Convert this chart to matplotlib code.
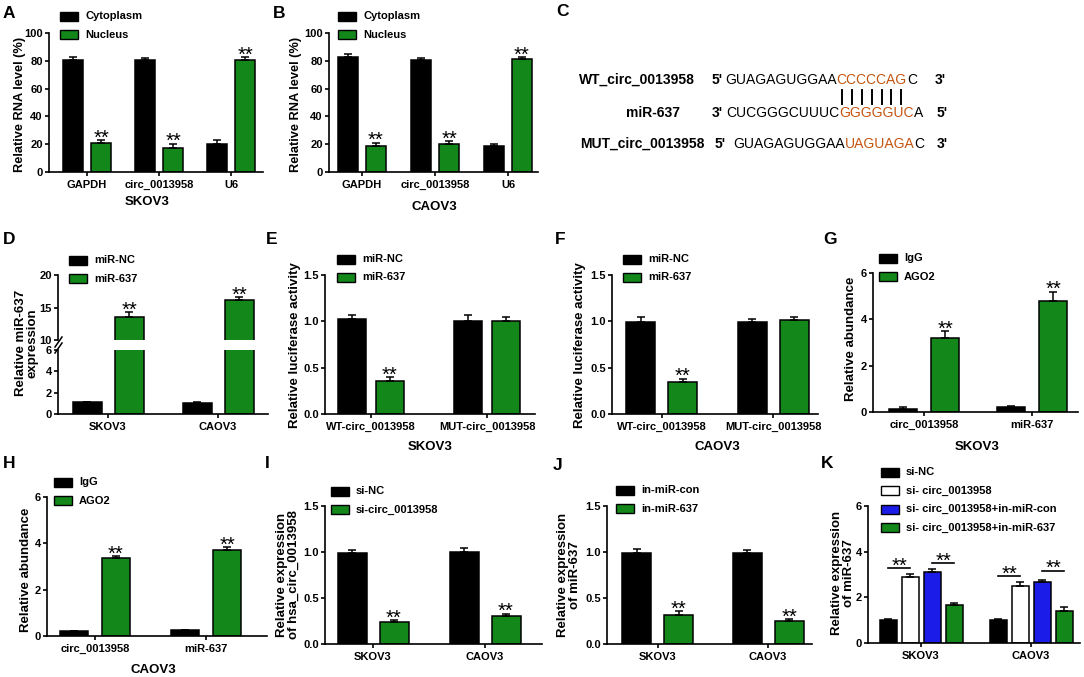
import numpy as np
import matplotlib
matplotlib.use("Agg")
import matplotlib.pyplot as plt
from matplotlib.patches import Rectangle
from matplotlib.font_manager import FontProperties
from matplotlib.ticker import FormatStrFormatter

plt.rcParams['font.family'] = ['Liberation Sans', 'DejaVu Sans']
plt.rcParams['font.weight'] = 'bold'

W, H = 1084, 677
GREEN = '#13871a'
BLUE = '#1c1ce8'
ORANGE = '#c4550f'

# ---- data ----
# A / B: nuclear / cytoplasmic fractions (%)
frac_genes = ['GAPDH', 'circ_0013958', 'U6']
skov3_cyto = [80.5, 80.5, 20.5]
skov3_cyto_err = [2.5, 1.2, 2.5]
skov3_nuc = [21.0, 17.0, 80.5]
skov3_nuc_err = [1.8, 3.5, 2.0]
caov3_cyto = [82.5, 80.5, 19.0]
caov3_cyto_err = [2.5, 1.2, 1.2]
caov3_nuc = [18.5, 20.5, 81.5]
caov3_nuc_err = [2.5, 1.5, 1.2]

cells = ['SKOV3', 'CAOV3']
# D: miR-637 mimic
mir_nc = [1.1, 1.05]
mir_nc_err = [0.05, 0.04]
mir_637 = [13.5, 16.1]
mir_637_err = [0.8, 0.5]

# E / F: luciferase
luc_groups = ['WT-circ_0013958', 'MUT-circ_0013958']
skov3_luc_nc = [1.02, 1.0]
skov3_luc_nc_err = [0.05, 0.07]
skov3_luc_mir = [0.36, 1.0]
skov3_luc_mir_err = [0.04, 0.05]
caov3_luc_nc = [0.99, 0.99]
caov3_luc_nc_err = [0.06, 0.04]
caov3_luc_mir = [0.34, 1.01]
caov3_luc_mir_err = [0.04, 0.04]

# G / H: RIP
rip_groups = ['circ_0013958', 'miR-637']
skov3_igg = [0.12, 0.22]
skov3_igg_err = [0.1, 0.02]
skov3_ago2 = [3.2, 4.8]
skov3_ago2_err = [0.3, 0.4]
caov3_igg = [0.2, 0.25]
caov3_igg_err = [0.02, 0.02]
caov3_ago2 = [3.35, 3.72]
caov3_ago2_err = [0.1, 0.12]

# I: si-circ
si_nc = [0.99, 1.0]
si_nc_err = [0.03, 0.04]
si_circ = [0.24, 0.30]
si_circ_err = [0.02, 0.03]

# J: in-miR
in_con = [0.99, 0.99]
in_con_err = [0.04, 0.03]
in_637 = [0.32, 0.25]
in_637_err = [0.04, 0.02]

# K: rescue
k_labels = ['si-NC', 'si- circ_0013958', 'si- circ_0013958+in-miR-con',
            'si- circ_0013958+in-miR-637']
k_vals = [[1.0, 1.0], [2.9, 2.48], [3.09, 2.67], [1.67, 1.41]]
k_errs = [[0.05, 0.05], [0.12, 0.19], [0.14, 0.1], [0.1, 0.15]]
# (cell index, bar a, bar b, height)
k_brackets = [(0, 0, 1, 3.28), (0, 2, 3, 3.5), (1, 0, 1, 2.94), (1, 2, 3, 3.16)]

fig = plt.figure(figsize=(W / 100, H / 100), dpi=100)
fig.set_facecolor('white')

ov = fig.add_axes([0, 0, 1, 1], zorder=10)
ov.set_xlim(0, W)
ov.set_ylim(H, 0)
ov.axis('off')


def make_axes(L, T, R, B):
    ax = fig.add_axes([L / W, 1 - B / H, (R - L) / W, (B - T) / H])
    for s in ['top', 'right']:
        ax.spines[s].set_visible(False)
    for s in ['left', 'bottom']:
        ax.spines[s].set_linewidth(1.2)
    ax.tick_params(direction='out', length=3, width=1.2, labelsize=8, pad=1.5)
    ax.tick_params(axis='x', pad=2.5)
    ax.set_facecolor('none')
    return ax


def bars(ax, L, R, centers, offsets, width, series, labels):
    s = centers[1] - centers[0]
    ax.set_xlim((L - centers[0]) / s, (R - centers[0]) / s)
    x = np.arange(len(labels))
    pos = []
    for off, (vals, errs, col) in zip(offsets, series):
        xs = x + off / s
        ax.bar(xs, vals, width / s, color=col, edgecolor='k', linewidth=1.1, zorder=2)
        ax.errorbar(xs, vals, yerr=[np.zeros(len(vals)), errs], fmt='none',
                    ecolor='k', elinewidth=1.1, capsize=3.2, capthick=1.1, zorder=3)
        pos.append(xs)
    ax.set_xticks(x)
    ax.set_xticklabels(labels)
    return pos


def stars(ax, xs, tops):
    for xx, t in zip(xs, tops):
        ax.annotate('**', (xx, t), xytext=(0, -2.5), textcoords='offset points',
                    ha='center', va='baseline', fontsize=14.5, fontweight='normal')


def legend(x, y0, entries, step=18.5):
    for i, (lab, col) in enumerate(entries):
        yy = y0 + i * step
        ov.add_patch(Rectangle((x, yy - 4.5), 18, 9, facecolor=col, edgecolor='k', lw=1.0))
        ov.text(x + 25, yy, lab, fontsize=8, va='center', ha='left')


def ylab(x, y, s, size=9.5):
    ov.text(x, y, s, rotation=90, ha='center', va='center', fontsize=size,
            multialignment='center', linespacing=0.95)


def top(v, e):
    return [a + b for a, b in zip(v, e)]


# ---------- A ----------
ax = make_axes(49, 33, 263, 172)
p = bars(ax, 49, 263, [87, 159, 231], [-14, 14], 20,
         [(skov3_cyto, skov3_cyto_err, 'k'), (skov3_nuc, skov3_nuc_err, GREEN)], frac_genes)
ax.set_ylim(0, 100)
ax.set_yticks([0, 20, 40, 60, 80, 100])
stars(ax, p[1], top(skov3_nuc, skov3_nuc_err))
legend(60, 16, [('Cytoplasm', 'k'), ('Nucleus', GREEN)])
ylab(20, 104, 'Relative RNA level (%)', 9.2)
ov.text(147, 202, 'SKOV3', fontsize=9.5, ha='center', va='center')

# ---------- B ----------
ax = make_axes(329, 33, 538, 172)
p = bars(ax, 329, 538, [362, 435, 507], [-14, 14], 20,
         [(caov3_cyto, caov3_cyto_err, 'k'), (caov3_nuc, caov3_nuc_err, GREEN)], frac_genes)
ax.set_ylim(0, 100)
ax.set_yticks([0, 20, 40, 60, 80, 100])
stars(ax, p[1], top(caov3_nuc, caov3_nuc_err))
legend(338, 16, [('Cytoplasm', 'k'), ('Nucleus', GREEN)])
ylab(296, 104, 'Relative RNA level (%)', 9.2)
ov.text(434, 207, 'CAOV3', fontsize=9.5, ha='center', va='center')

# ---------- C ----------
r = fig.canvas.get_renderer()
seq_font = FontProperties(family='Liberation Sans', weight='normal', size=10)


def tw(s):
    if not s:
        return 0.0
    return r.get_text_width_height_descent(s, seq_font, ismath=False)[0]


def seq_row(y, x, parts):
    red_x = None
    for s, c in parts:
        ov.text(x, y, s, color=c, fontproperties=seq_font, ha='left', va='center')
        if c != 'k' and red_x is None:
            red_x = x
        x += tw(s)
    return red_x


lab_kw = dict(fontsize=10, ha='left', va='center')
ov.text(579, 80, 'WT_circ_0013958', **lab_kw)
ov.text(712, 80, "5'", **lab_kw)
wt_red = 'CCCCCAG'
rx = seq_row(80, 725, [('GUAGAGUGGAA', 'k'), (wt_red, ORANGE), ('C', 'k')])
ov.text(935, 80, "3'", **lab_kw)

ov.text(626, 113, 'miR-637', **lab_kw)
ov.text(712, 113, "3'", **lab_kw)
seq_row(113, 726, [('CUCGGGCUUUC', 'k'), ('GGGGGUC', ORANGE), ('A', 'k')])
ov.text(937, 113, "5'", **lab_kw)

ov.text(580, 144, 'MUT_circ_0013958', **lab_kw)
ov.text(715, 144, "5'", **lab_kw)
seq_row(144, 733, [('GUAGAGUGGAA', 'k'), ('UAGUAGA', ORANGE), ('C', 'k')])
ov.text(937, 144, "3'", **lab_kw)

for i in range(len(wt_red)):
    cx = rx + (tw(wt_red[:i]) + tw(wt_red[:i + 1])) / 2
    ov.plot([cx, cx], [90, 104], color='k', lw=1.4)

# ---------- D (broken axis) ----------
axu = make_axes(58, 275, 268, 340)
axl = make_axes(58, 350, 268, 414)
ser = [(mir_nc, mir_nc_err, 'k'), (mir_637, mir_637_err, GREEN)]
pu = bars(axu, 58, 268, [108, 218], [-21, 21], 29, ser, cells)
bars(axl, 58, 268, [108, 218], [-21, 21], 29, ser, cells)
axu.set_ylim(10, 20)
axu.set_yticks([10, 15, 20])
axu.spines['bottom'].set_visible(False)
axu.set_xticks([])
axl.set_ylim(0, 6)
axl.set_yticks([0, 2, 4, 6])
stars(axu, pu[1], top(mir_637, mir_637_err))
legend(69, 260, [('miR-NC', 'k'), ('miR-637', GREEN)])
ylab(27, 343, 'Relative miR-637\nexpression')
ov.plot([55, 62], [347, 337], color='k', lw=1.1)
ov.plot([55, 62], [353, 343], color='k', lw=1.1)

# ---------- E ----------
ax = make_axes(325, 275, 535, 414)
p = bars(ax, 325, 535, [371, 487], [-19, 19], 28,
         [(skov3_luc_nc, skov3_luc_nc_err, 'k'), (skov3_luc_mir, skov3_luc_mir_err, GREEN)],
         luc_groups)
ax.set_ylim(0, 1.5)
ax.set_yticks([0, 0.5, 1.0, 1.5])
ax.yaxis.set_major_formatter(FormatStrFormatter('%.1f'))
stars(ax, p[1][:1], top(skov3_luc_mir, skov3_luc_mir_err)[:1])
legend(337, 259, [('miR-NC', 'k'), ('miR-637', GREEN)])
ylab(295, 345, 'Relative luciferase activity')
ov.text(430, 447, 'SKOV3', fontsize=9.5, ha='center', va='center')

# ---------- F ----------
ax = make_axes(612, 275, 818, 414)
p = bars(ax, 612, 818, [661.5, 773], [-21, 21], 29,
         [(caov3_luc_nc, caov3_luc_nc_err, 'k'), (caov3_luc_mir, caov3_luc_mir_err, GREEN)],
         luc_groups)
ax.set_ylim(0, 1.5)
ax.set_yticks([0, 0.5, 1.0, 1.5])
ax.yaxis.set_major_formatter(FormatStrFormatter('%.1f'))
stars(ax, p[1][:1], top(caov3_luc_mir, caov3_luc_mir_err)[:1])
legend(623, 259, [('miR-NC', 'k'), ('miR-637', GREEN)])
ylab(580, 345, 'Relative luciferase activity')
ov.text(717, 447, 'CAOV3', fontsize=9.5, ha='center', va='center')

# ---------- G ----------
ax = make_axes(873, 273, 1078, 412)
p = bars(ax, 873, 1078, [924, 1032], [-21, 21], 28,
         [(skov3_igg, skov3_igg_err, 'k'), (skov3_ago2, skov3_ago2_err, GREEN)], rip_groups)
ax.set_ylim(0, 6)
ax.set_yticks([0, 2, 4, 6])
stars(ax, p[1], top(skov3_ago2, skov3_ago2_err))
legend(879, 258, [('IgG', 'k'), ('AGO2', GREEN)])
ylab(851, 339, 'Relative abundance')
ov.text(977, 447, 'SKOV3', fontsize=9.5, ha='center', va='center')

# ---------- H ----------
ax = make_axes(47, 497, 267, 636)
p = bars(ax, 47, 267, [95, 206], [-21, 21], 28,
         [(caov3_igg, caov3_igg_err, 'k'), (caov3_ago2, caov3_ago2_err, GREEN)], rip_groups)
ax.set_ylim(0, 6)
ax.set_yticks([0, 2, 4, 6])
stars(ax, p[1], top(caov3_ago2, caov3_ago2_err))
legend(54, 482, [('IgG', 'k'), ('AGO2', GREEN)])
ylab(26, 570, 'Relative abundance')
ov.text(153, 670, 'CAOV3', fontsize=9.5, ha='center', va='center')

# ---------- I ----------
ax = make_axes(325, 506, 542, 644)
p = bars(ax, 325, 542, [373, 485], [-21, 21], 29,
         [(si_nc, si_nc_err, 'k'), (si_circ, si_circ_err, GREEN)], cells)
ax.set_ylim(0, 1.5)
ax.set_yticks([0, 0.5, 1.0, 1.5])
ax.yaxis.set_major_formatter(FormatStrFormatter('%.1f'))
stars(ax, p[1], top(si_circ, si_circ_err))
legend(331, 491, [('si-NC', 'k'), ('si-circ_0013958', GREEN)])
ylab(288, 575, 'Relative expression\nof hsa_circ_0013958')

# ---------- J ----------
ax = make_axes(607, 506, 812, 644)
p = bars(ax, 607, 812, [657.5, 768], [-21, 21], 29,
         [(in_con, in_con_err, 'k'), (in_637, in_637_err, GREEN)], cells)
ax.set_ylim(0, 1.5)
ax.set_yticks([0, 0.5, 1.0, 1.5])
ax.yaxis.set_major_formatter(FormatStrFormatter('%.1f'))
stars(ax, p[1], top(in_637, in_637_err))
legend(616, 490, [('in-miR-con', 'k'), ('in-miR-637', GREEN)])
ylab(569, 575, 'Relative expression\nof miR-637')

# ---------- K ----------
ax = make_axes(868, 506, 1080, 643)
k_cols = ['k', 'white', BLUE, GREEN]
p = bars(ax, 868, 1080, [921, 1031], [-33, -11, 11, 33], 17,
         [(v, e, c) for v, e, c in zip(k_vals, k_errs, k_cols)], cells)
ax.set_ylim(0, 6)
ax.set_yticks([0, 2, 4, 6])
for ci, a, b, h in k_brackets:
    xa, xb = p[a][ci], p[b][ci]
    ax.plot([xa, xb], [h, h], color='k', lw=1.2, clip_on=False)
    stars(ax, [(xa + xb) / 2], [h])
legend(881, 472, list(zip(k_labels, k_cols)))
ylab(843, 573, 'Relative expression\nof miR-637')

# ---------- panel letters ----------
for lab, x, y in [('A', 3, 14), ('B', 273, 14), ('C', 556, 12), ('D', 3, 240),
                  ('E', 266, 239), ('F', 555, 240), ('G', 823, 240),
                  ('H', 3, 463), ('I', 265, 463), ('J', 553, 465), ('K', 821, 463)]:
    ov.text(x, y, lab, fontsize=12.5, ha='left', va='center')

fig.savefig('out.png', dpi=100, facecolor='white')
